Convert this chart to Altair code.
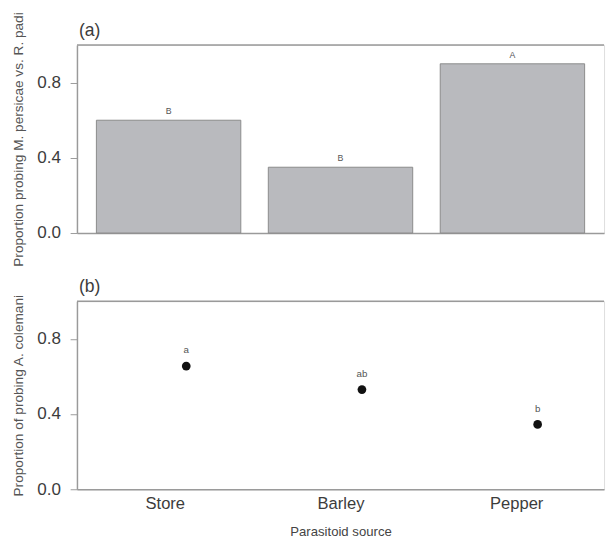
import altair as alt
import pandas as pd

categories = ["Store", "Barley", "Pepper"]
prop_a = [0.60, 0.35, 0.90]
letters_a = ["B", "B", "A"]
prop_b = [0.655, 0.53, 0.345]
letters_b = ["a", "ab", "b"]
y_ticks = [0.0, 0.2, 0.4, 0.6, 0.8, 1.0]

df_a = pd.DataFrame({"source": categories, "prop": prop_a, "letter": letters_a})
df_b = pd.DataFrame({"source": categories, "prop": prop_b, "letter": letters_b})

FONT = "Liberation Sans"
LINE = "#9a9a9a"
TXT = "#3c3c3c"
W, H = 541, 193

label_expr = "(datum.value == 0 || datum.value == 0.4 || datum.value == 0.8) ? format(datum.value, '.1f') : ''"

def y_axis(title):
    return alt.Axis(values=y_ticks, labelExpr=label_expr, title=title, tickSize=7,
                    tickColor=LINE, domainColor=LINE, domainWidth=1.5, labelFontSize=17.5,
                    labelColor=TXT, labelPadding=10, titleFontSize=14, titleColor="#555",
                    titleFontWeight="normal", titlePadding=12, grid=False)

xscale = alt.Scale(domain=categories, paddingInner=0.16, paddingOuter=0.113)

def panel_label(df, txt):
    return alt.Chart(df.head(1)).mark_text(
        align="left", baseline="alphabetic", fontSize=18, color=TXT, font=FONT
    ).encode(x=alt.value(2), y=alt.value(-9), text=alt.value(txt))

# Panel (a)
base_a = alt.Chart(df_a).encode(
    x=alt.X("source:N", sort=categories, scale=xscale,
            axis=alt.Axis(labels=False, ticks=False, title=None, domainColor=LINE, domainWidth=1.5)),
)
bars = base_a.mark_bar(color="#b9babe", stroke="#8a8a8a", strokeWidth=1).encode(
    y=alt.Y("prop:Q", scale=alt.Scale(domain=[0, 1]),
            axis=y_axis("Proportion probing M. persicae vs. R. padi")),
)
lab_a = base_a.mark_text(dy=-9, fontSize=9, color="#555", font=FONT).encode(
    y=alt.Y("prop:Q"), text="letter:N")
top_a = alt.Chart(df_a.head(1)).mark_rule(color=LINE, strokeWidth=1.5).encode(y=alt.value(0))

panel_a = alt.layer(bars, lab_a, top_a, panel_label(df_a, "(a)")).properties(width=W, height=H)

# Panel (b)
base_b = alt.Chart(df_b).encode(
    x=alt.X("source:N", sort=categories, scale=xscale,
            axis=alt.Axis(ticks=False, title="Parasitoid source", labelAngle=0,
                          labelFontSize=17, labelColor=TXT, labelPadding=7,
                          domainColor=LINE, domainWidth=1.5, titleFontSize=13.5,
                          titleFontWeight="normal", titleColor="#444", titlePadding=13)),
    xOffset=alt.value(22),
)
pts = base_b.mark_circle(size=80, color="#111111", opacity=1).encode(
    y=alt.Y("prop:Q", scale=alt.Scale(domain=[0, 1]),
            axis=y_axis("Proportion of probing A. colemani")),
)
lab_b = base_b.mark_text(dy=-16, fontSize=10, color="#555", font=FONT).encode(
    y=alt.Y("prop:Q"), text="letter:N")
top_b = alt.Chart(df_b.head(1)).mark_rule(color=LINE, strokeWidth=1.5).encode(y=alt.value(0))

panel_b = alt.layer(pts, lab_b, top_b, panel_label(df_b, "(b)")).properties(width=W, height=H)

chart = alt.vconcat(panel_a, panel_b, spacing=70, bounds="flush").properties(
    padding={"left": 11, "top": 4, "right": 0, "bottom": 0},
    background="white",
).configure_view(stroke=None).configure(font=FONT)

chart.save("out.html", embed_options={"renderer": "svg", "actions": False})
